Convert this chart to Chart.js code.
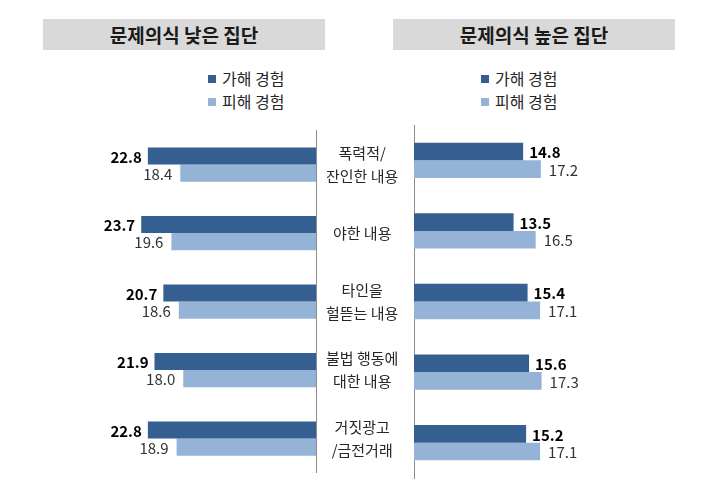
<!DOCTYPE html>
<html>
<head>
<meta charset="utf-8">
<script src="https://cdn.jsdelivr.net/npm/chart.js@4.4.1/dist/chart.umd.min.js"></script>
<style>
  html, body { margin: 0; padding: 0; background: #fff; overflow: hidden; }
  body { width: 719px; height: 496px; position: relative; font-family: "Noto Sans CJK KR", "Noto Sans", sans-serif; }
  .hdr { position: absolute; top: 19px; height: 31px; width: 282px; background: #d9d9d9; color: #1a1a1a;
         font-weight: bold; font-size: 19px; line-height: 31px; text-align: center; }
  .leg { position: absolute; font-size: 16px; color: #262626; line-height: 18px; white-space: nowrap; }
  .leg .sw { display: inline-block; width: 8px; height: 8px; margin-right: 6px; vertical-align: 2px; }
  canvas { position: absolute; }
</style>
</head>
<body>
<div id="hdrL" class="hdr" style="left:43px"></div>
<div id="hdrR" class="hdr" style="left:393px"></div>
<div id="legL1" class="leg" style="left:208px; top:69px"></div>
<div id="legL2" class="leg" style="left:208px; top:92px"></div>
<div id="legR1" class="leg" style="left:481px; top:69px"></div>
<div id="legR2" class="leg" style="left:481px; top:92px"></div>
<canvas id="cL" width="414" height="409" style="left:0px; top:97px"></canvas>
<canvas id="cR" width="306" height="409" style="left:413px; top:97px"></canvas>
<script>
const categories = [["폭력적/", "잔인한 내용"], "야한 내용", ["타인을", "헐뜯는 내용"], ["불법 행동에", "대한 내용"], ["거짓광고", "/금전거래"]];
const seriesNames = ["가해 경험", "피해 경험"];
const panelTitles = ["문제의식 낮은 집단", "문제의식 높은 집단"];
const lowPerpetration = [22.8, 23.7, 20.7, 21.9, 22.8];
const lowVictimization = [18.4, 19.6, 18.6, 18.0, 18.9];
const highPerpetration = [14.8, 13.5, 15.4, 15.6, 15.2];
const highVictimization = [17.2, 16.5, 17.1, 17.3, 17.1];

const DARK = "#365f91";
const LIGHT = "#95b3d7";
const FONT = '"Noto Sans CJK KR", "Noto Sans", sans-serif';

document.getElementById("hdrL").textContent = panelTitles[0];
document.getElementById("hdrR").textContent = panelTitles[1];
[["legL1", 0, DARK], ["legL2", 1, LIGHT], ["legR1", 0, DARK], ["legR2", 1, LIGHT]].forEach(([id, i, c]) => {
  const el = document.getElementById(id);
  const sw = document.createElement("span");
  sw.className = "sw"; sw.style.background = c;
  el.appendChild(sw);
  el.appendChild(document.createTextNode(seriesNames[i]));
});

const valueLabels = {
  id: "valueLabels",
  afterDatasetsDraw(chart, args, opts) {
    const ctx = chart.ctx;
    ctx.save();
    ctx.textBaseline = "middle";
    chart.data.datasets.forEach((ds, di) => {
      const meta = chart.getDatasetMeta(di);
      const bold = di === 0;
      ctx.font = (bold ? "bold " : "") + "15px " + FONT;
      ctx.fillStyle = bold ? "#000" : "#333";
      const gap = bold ? 6 : 8;
      meta.data.forEach((el, i) => {
        const txt = ds.data[i].toFixed(1);
        if (opts.side === "left") {
          ctx.textAlign = "right";
          ctx.fillText(txt, el.x - gap, el.y + 1);
        } else {
          ctx.textAlign = "left";
          ctx.fillText(txt, el.x + gap, el.y + 1);
        }
      });
    });
    ctx.restore();
  }
};

function makeChart(id, d1, d2, side) {
  const isLeft = side === "left";
  return new Chart(document.getElementById(id), {
    type: "bar",
    data: {
      labels: categories,
      datasets: [
        { label: seriesNames[0], data: d1, backgroundColor: DARK, categoryPercentage: 0.5, barPercentage: 1.0 },
        { label: seriesNames[1], data: d2, backgroundColor: LIGHT, categoryPercentage: 0.5, barPercentage: 1.0 }
      ]
    },
    options: {
      indexAxis: "y",
      responsive: false,
      animation: false,
      devicePixelRatio: 1,
      layout: { padding: isLeft ? { left: 21, right: 0, top: 28, bottom: 28 } : { left: 0, right: 10, top: 28, bottom: 28 } },
      plugins: { legend: { display: false }, tooltip: { enabled: false }, valueLabels: { side } },
      scales: {
        x: { display: false, min: 0, max: 40, reverse: isLeft },
        y: {
          position: isLeft ? "right" : "left",
          grid: { display: false, drawTicks: false },
          border: { display: true, color: "#8c8c8c", width: 1 },
          ticks: isLeft ? {
            display: true, crossAlign: "center", padding: 10, color: "#262626",
            font: { family: FONT, size: 15, lineHeight: 1.55 }
          } : { display: false },
          afterFit(scale) { scale.width = isLeft ? 98 : 1; }
        }
      }
    },
    plugins: [valueLabels]
  });
}

makeChart("cL", lowPerpetration, lowVictimization, "left");
makeChart("cR", highPerpetration, highVictimization, "right");
</script>
</body>
</html>
